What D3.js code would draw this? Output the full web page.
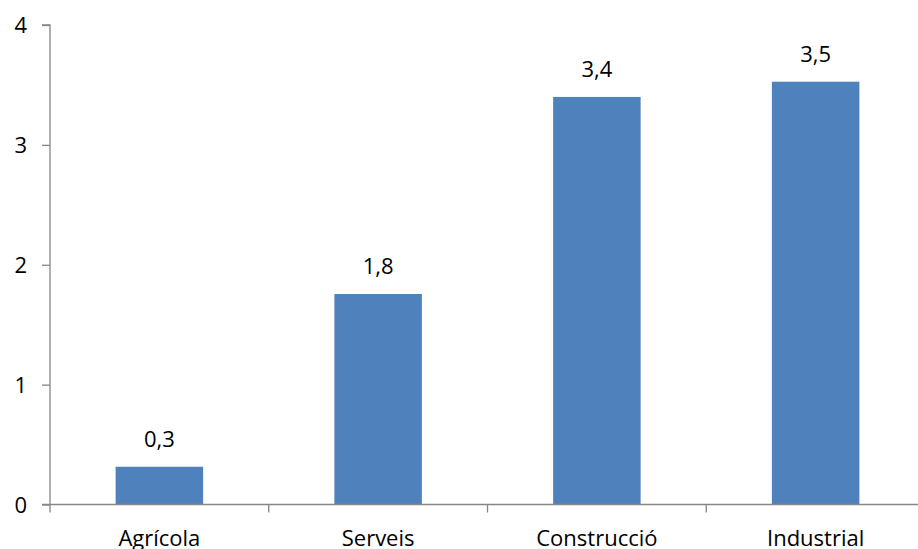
<!DOCTYPE html>
<html><head><meta charset="utf-8">
<script src="https://d3js.org/d3.v7.min.js"></script>
<style>body{margin:0;background:#fff}svg{display:block}text{font-family:"Open Sans",Lato,sans-serif;fill:#000}</style>
</head><body>
<script>
const categories = ["Agrícola", "Serveis", "Construcció", "Industrial"];
const values = [0.315, 1.756, 3.40, 3.527];
const valueLabels = ["0,3", "1,8", "3,4", "3,5"];
const yTicks = [0, 1, 2, 3, 4];

const W = 918, H = 549;
const FS = 22;
const svg = d3.select("body").append("svg").attr("width", W).attr("height", H);
const xb = d3.scaleBand().domain(categories).range([50, 925]);
const y = d3.scaleLinear().domain([0, 4]).range([504.5, 25]);
const axisColor = "#868686";

// bars
svg.selectAll("rect.bar").data(categories).enter().append("rect")
  .attr("x", d => xb(d) + (xb.bandwidth() - 87.5) / 2)
  .attr("width", 87.5)
  .attr("y", (d, i) => y(values[i]))
  .attr("height", (d, i) => y(0) - y(values[i]))
  .attr("fill", "#4F81BD");

// value labels
svg.selectAll("text.val").data(categories).enter().append("text")
  .attr("x", d => xb(d) + xb.bandwidth() / 2)
  .attr("y", (d, i) => y(values[i]) - 20)
  .attr("text-anchor", "middle").attr("font-size", FS)
  .text((d, i) => valueLabels[i]);

// y axis
const yAxis = svg.append("g").attr("transform", "translate(50,0)")
  .call(d3.axisLeft(y).tickValues(yTicks).tickSize(8).tickPadding(15).tickFormat(d3.format("d")));
yAxis.select(".domain").attr("stroke", axisColor).attr("stroke-width", 1.3).attr("d", `M-8,${y(4)}H0V${y(0)}`);
yAxis.selectAll(".tick line").attr("stroke", axisColor).attr("stroke-width", 1.3);
yAxis.selectAll(".tick text").attr("font-size", FS).attr("fill", "#000").attr("dy", "0.35em");

// x axis
const xAxisG = svg.append("g").attr("transform", `translate(0,${y(0)})`);
xAxisG.append("line").attr("x1", 42).attr("x2", W).attr("y1", 0).attr("y2", 0)
  .attr("stroke", axisColor).attr("stroke-width", 1.3);
xAxisG.selectAll("line.tk").data(categories).enter().append("line")
  .attr("x1", d => xb(d)).attr("x2", d => xb(d)).attr("y1", 0).attr("y2", 8)
  .attr("stroke", axisColor).attr("stroke-width", 1.3);
xAxisG.selectAll("text.cat").data(categories).enter().append("text")
  .attr("x", d => xb(d) + xb.bandwidth() / 2).attr("y", 41)
  .attr("text-anchor", "middle").attr("font-size", FS).text(d => d);
</script>
</body></html>
